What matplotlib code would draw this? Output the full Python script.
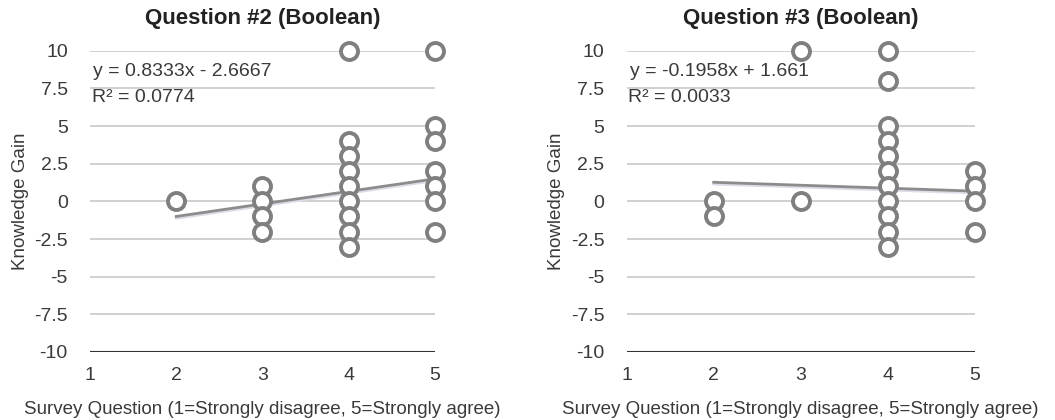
import matplotlib
matplotlib.use("Agg")
import matplotlib.pyplot as plt
import numpy as np

plt.rcParams['font.family'] = ['Liberation Sans', 'DejaVu Sans']

# Question #2 data
q2_x = [2, 3, 3, 3, 3, 4, 4, 4, 4, 4, 4, 4, 4, 4, 5, 5, 5, 5, 5, 5, 5]
q2_y = [0, 1, 0, -1, -2, 10, 4, 3, 2, 1, 0, -1, -2, -3, 10, 5, 4, 2, 1, 0, -2]
q2_fit = (0.8333, -2.6667)
q2_r2 = "0.0774"

# Question #3 data
q3_x = [2, 2, 3, 3, 4, 4, 4, 4, 4, 4, 4, 4, 4, 4, 4, 5, 5, 5, 5]
q3_y = [0, -1, 10, 0, 10, 8, 5, 4, 3, 2, 1, 0, -1, -2, -3, 2, 1, 0, -2]
q3_fit = (-0.1958, 1.661)
q3_r2 = "0.0033"

yticks = [-10, -7.5, -5, -2.5, 0, 2.5, 5, 7.5, 10]
ytick_labels = ["-10", "-7.5", "-5", "-2.5", "0", "2.5", "5", "7.5", "10"]
xticks = [1, 2, 3, 4, 5]

fig = plt.figure(figsize=(10.55, 4.2), dpi=100)
ax1 = fig.add_axes([0.0853, 0.162, 0.327, 0.717])
ax2 = fig.add_axes([0.594, 0.162, 0.330, 0.717])


def draw(ax, xs, ys, fit, r2, title):
    for v in yticks[1:]:
        ax.axhline(v, color='#c8c8c8', lw=1.2, zorder=1)
    ax.axhline(-10, color='#333333', lw=1.5, zorder=1)
    lx = np.array([min(xs), max(xs)])
    ly = fit[0] * lx + fit[1]
    ax.plot(lx, ly - 0.12, color='#dcdce6', lw=2.0, zorder=2)
    ax.plot(lx, ly, color='#8c8c8c', lw=2.0, zorder=3)
    ax.scatter(xs, ys, s=150, facecolors='white', edgecolors='#7f7f7f',
               linewidths=2.8, zorder=4, clip_on=False)
    ax.set_xlim(1, 5)
    ax.set_ylim(-10, 10)
    ax.set_xticks(xticks)
    ax.set_yticks(yticks)
    ax.set_yticklabels(ytick_labels)
    for s in ax.spines.values():
        s.set_visible(False)
    ax.tick_params(length=0, labelsize=14, colors='#3a3a3a')
    ax.tick_params(axis='y', pad=16)
    ax.tick_params(axis='x', pad=11)
    ax.set_ylabel("Knowledge Gain", fontsize=13.5, color='#3a3a3a', labelpad=4)
    ax.set_xlabel("Survey Question (1=Strongly disagree, 5=Strongly agree)",
                  fontsize=13.5, color='#3a3a3a', labelpad=12)
    ax.set_title(title, fontsize=16, fontweight='bold', color='#222222', pad=19)
    sign = '-' if fit[1] < 0 else '+'
    ax.text(1.04, 8.6, "y = %gx %s %g" % (fit[0], sign, abs(fit[1])),
            fontsize=14, color='#3a3a3a', va='center')
    ax.text(1.02, 6.9, "R² = %s" % r2, fontsize=14, color='#3a3a3a', va='center')


draw(ax1, q2_x, q2_y, q2_fit, q2_r2, "Question #2 (Boolean)")
draw(ax2, q3_x, q3_y, q3_fit, q3_r2, "Question #3 (Boolean)")

fig.savefig("out.png", dpi=100)
